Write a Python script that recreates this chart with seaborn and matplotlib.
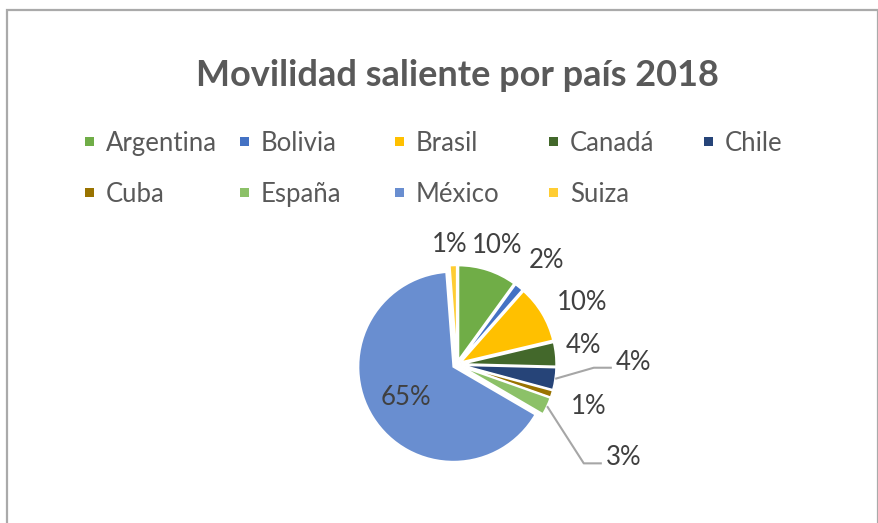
import numpy as np
import matplotlib
matplotlib.use("Agg")
import matplotlib.pyplot as plt
import seaborn as sns
from matplotlib.patches import Rectangle

# --- datos ---
paises = ["Argentina", "Bolivia", "Brasil", "Canadá", "Chile",
          "Cuba", "España", "México", "Suiza"]
porcentajes = [10.0, 1.5, 9.8, 4.1, 3.8, 1.2, 3.0, 65.4, 1.2]
colores = ["#70AD47", "#4472C4", "#FFC000", "#43682B", "#264478",
           "#997300", "#8CC168", "#698ED0", "#FFCD33"]

# --- layout de etiquetas: (distancia en radios, angulo horario desde las 12) ---
pos_etiquetas = [(1.32, 18.6), (1.45, 40.7), (1.47, 63.8), (1.35, 81.7),
                 (1.86, 89.2), (1.45, 107.6), (2.01, 119.2), (0.64, 236.7),
                 (1.27, 356.7)]
con_guia = [False, False, False, False, True, False, True, False, False]

sns.set_theme(style="white")
plt.rcParams['font.family'] = ['Lato', 'DejaVu Sans']

W, H = 879, 523
fig = plt.figure(figsize=(W / 100, H / 100), dpi=100)

# borde del grafico (estilo Excel)
fig.add_artist(Rectangle((7 / W, -0.05), (878 - 7) / W, 1.05 - 9.5 / H,
                         transform=fig.transFigure, fill=False,
                         edgecolor="#AAAAAA", linewidth=1.6))

# titulo
fig.text(457 / W, 1 - 86 / H, "Movilidad saliente por país 2018",
         ha="center", va="baseline", fontsize=26, fontweight="bold",
         color="#595959")

# leyenda (columnas de ancho fijo como en Excel)
col_x = 90
for i, (pais, color) in enumerate(zip(paises, colores)):
    fila, col = divmod(i, 5)
    cx = col_x + col * 154.6
    cy = 141 + fila * 51
    fig.add_artist(Rectangle(((cx - 4.5) / W, 1 - (cy + 4.5) / H), 9 / W, 9 / H,
                             transform=fig.transFigure, facecolor=color,
                             edgecolor="none"))
    fig.text((cx + 16) / W, 1 - cy / H, pais, ha="left", va="center_baseline",
             fontsize=18.5, color="#595959")

# pastel: radio 1 = 95 px, centro en (457, 364.5) px
R = 95
ax = fig.add_axes([(457 - 200) / W, (H - 364.5 - 150) / H, 400 / W, 300 / H])
explode = [0.045] * len(porcentajes)
wedges, _ = ax.pie(porcentajes, colors=colores, startangle=90,
                   counterclock=False, explode=explode, radius=1,
                   wedgeprops=dict(edgecolor="white", linewidth=1.4))
ax.set_xlim(-200 / R, 200 / R)
ax.set_ylim(-150 / R, 150 / R)
ax.set_aspect("equal")
ax.axis("off")

total = sum(porcentajes)
for w, val, (d, ang), guia in zip(wedges, porcentajes, pos_etiquetas, con_guia):
    t = np.deg2rad(ang)
    tx, ty = d * np.sin(t), d * np.cos(t)
    ax.text(tx, ty, f"{round(val / total * 100):.0f}%", ha="center",
            va="center", fontsize=18.5, color="#404040")
    if guia:
        mid = np.deg2rad((w.theta1 + w.theta2) / 2)
        r0 = 1.0 + explode[0]
        sx, sy = r0 * np.cos(mid), r0 * np.sin(mid)
        ly = ty - 0.06
        ax.plot([sx, tx - 0.42, tx - 0.23], [sy, ly, ly], color="#A6A6A6",
                linewidth=1.5, clip_on=False, solid_capstyle="butt")

fig.savefig("out.png", dpi=100)
